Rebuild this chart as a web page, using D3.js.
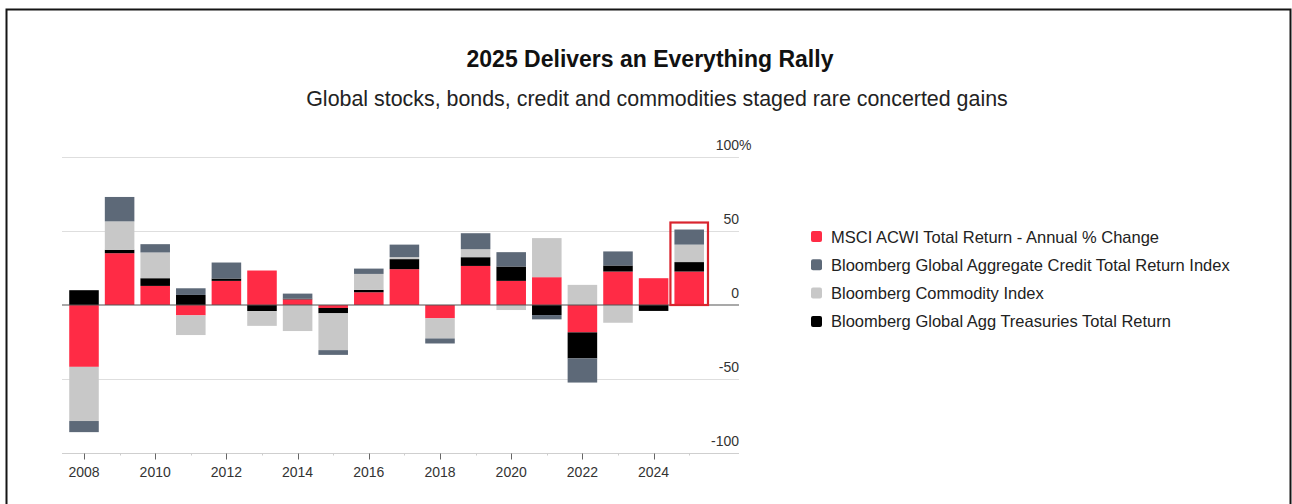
<!DOCTYPE html>
<html>
<head>
<meta charset="utf-8">
<script src="https://cdn.jsdelivr.net/npm/d3@7"></script>
<style>
    body { margin: 0; background: #fff; }
    svg text { font-family: "Liberation Sans", Arial, sans-serif; }
</style>
</head>
<body>
<div id="chart"></div>
<script>
const years = [2008, 2009, 2010, 2011, 2012, 2013, 2014, 2015, 2016, 2017, 2018, 2019, 2020, 2021, 2022, 2023, 2024, 2025];
const msci = [-41.8, 35.0, 12.9, -7.0, 16.3, 23.3, 3.8, -2.0, 8.6, 24.2, -9.0, 26.4, 16.3, 18.8, -18.5, 22.6, 18.1, 22.6];
const treasuries = [10.0, 2.3, 5.2, 6.8, 1.6, -4.1, 0.5, -3.6, 1.6, 6.8, 0, 5.9, 9.7, -6.8, -17.6, 4.1, -4.0, 6.4];
const commodity = [-36.6, 19.2, 17.4, -13.3, 0, -10.0, -17.6, -24.9, 10.8, 1.4, -13.6, 5.4, -3.4, 26.4, 13.6, -12.0, 0, 11.8];
const credit = [-7.5, 16.5, 5.6, 4.5, 10.8, 0, 3.4, -3.2, 3.6, 8.4, -3.4, 10.8, 9.7, -2.9, -16.3, 9.5, 0, 10.2];

const yTicks = [100, 50, 0, -50, -100];
const xLabelYears = [2008, 2010, 2012, 2014, 2016, 2018, 2020, 2022, 2024];
const highlightYear = 2025;

const series = [
    {key: "msci", label: "MSCI ACWI Total Return - Annual % Change", color: "#ff2b45", values: msci},
    {key: "credit", label: "Bloomberg Global Aggregate Credit Total Return Index", color: "#5d6978", values: credit},
    {key: "commodity", label: "Bloomberg Commodity Index", color: "#c8c8c8", values: commodity},
    {key: "treasuries", label: "Bloomberg Global Agg Treasuries Total Return", color: "#000000", values: treasuries}
];
// stacking order out from zero
const stackOrder = ["msci", "treasuries", "commodity", "credit"];

const width = 1292;
const height = 504;

const rows = years.map((yr, i) => {
    let r = {year: yr};
    series.forEach(s => r[s.key] = s.values[i]);
    return r;
});

const svg = d3.select("#chart")
    .append("svg")
    .attr("width", width)
    .attr("height", height);

// frame
svg.append("rect")
    .attr("x", 6.5)
    .attr("y", 9.5)
    .attr("width", 1284)
    .attr("height", 520)
    .attr("fill", "none")
    .attr("stroke", "#151515")
    .attr("stroke-width", 2);

svg.append("text")
    .attr("x", 650)
    .attr("y", 67)
    .attr("text-anchor", "middle")
    .style("font-size", "23px")
    .style("font-weight", "bold")
    .style("fill", "#111")
    .text("2025 Delivers an Everything Rally");

svg.append("text")
    .attr("x", 657)
    .attr("y", 106)
    .attr("text-anchor", "middle")
    .style("font-size", "21.4px")
    .style("fill", "#222")
    .text("Global stocks, bonds, credit and commodities staged rare concerted gains");

const x = d3.scaleBand()
    .domain(years)
    .range([66.2, 707])
    .paddingInner(0.17)
    .paddingOuter(0.085);

const y = d3.scaleLinear()
    .domain([-100, 100])
    .range([453, 157]);

const gridLeft = 62;
const gridRight = 739;

// gridlines
svg.selectAll(".grid")
    .data(yTicks.filter(t => t !== 0 && t !== -100))
    .enter()
    .append("line")
    .attr("class", "grid")
    .attr("x1", gridLeft)
    .attr("x2", gridRight)
    .attr("y1", d => Math.round(y(d)) + 0.5)
    .attr("y2", d => Math.round(y(d)) + 0.5)
    .attr("stroke", "#dedede");

// y labels
svg.selectAll(".ylab")
    .data(yTicks)
    .enter()
    .append("text")
    .attr("class", "ylab")
    .attr("x", gridRight)
    .attr("y", d => y(d) - 7)
    .attr("text-anchor", "end")
    .style("font-size", "14px")
    .style("fill", "#333")
    .each(function(d){
        const t = d3.select(this);
        t.append("tspan").text(d);
        if (d === 100) t.append("tspan").text("%");
    });
// keep "%" hanging past the right edge
svg.selectAll(".ylab").filter(d => d === 100)
    .attr("text-anchor", "start")
    .attr("x", function(){ return gridRight - this.firstChild.getComputedTextLength(); });

// stacked bars
const stack = d3.stack()
    .keys(stackOrder)
    .offset(d3.stackOffsetDiverging);

const stacked = stack(rows);
const colorOf = {};
series.forEach(s => colorOf[s.key] = s.color);

svg.append("g")
    .selectAll("g")
    .data(stacked)
    .enter()
    .append("g")
    .attr("fill", d => colorOf[d.key])
    .selectAll("rect")
    .data(d => d)
    .enter()
    .append("rect")
    .attr("x", d => x(d.data.year))
    .attr("width", x.bandwidth())
    .attr("y", d => y(Math.max(d[0], d[1])))
    .attr("height", d => Math.abs(y(d[0]) - y(d[1])));

// zero line
svg.append("line")
    .attr("x1", gridLeft)
    .attr("x2", gridRight)
    .attr("y1", y(0))
    .attr("y2", y(0))
    .attr("stroke", "#555")
    .attr("stroke-width", 1.2);

// x axis
const xAxis = svg.append("g")
    .attr("transform", `translate(0,${Math.round(y(-100)) + 0.5})`);

xAxis.append("line")
    .attr("x1", gridLeft)
    .attr("x2", gridRight)
    .attr("stroke", "#cfcfcf");

xAxis.selectAll(".tick")
    .data(years)
    .enter()
    .append("line")
    .attr("x1", d => Math.round(x(d) + x.bandwidth() / 2) + 0.5)
    .attr("x2", d => Math.round(x(d) + x.bandwidth() / 2) + 0.5)
    .attr("y1", 0)
    .attr("y2", d => xLabelYears.includes(d) ? 6 : 2)
    .attr("stroke", d => xLabelYears.includes(d) ? "#666" : "#ccc");

xAxis.selectAll(".xlab")
    .data(xLabelYears)
    .enter()
    .append("text")
    .attr("x", d => x(d) + x.bandwidth() / 2)
    .attr("y", 23)
    .attr("text-anchor", "middle")
    .style("font-size", "14px")
    .style("fill", "#333")
    .text(d => d);

// highlight box around the latest year
const lastTop = d3.max(stacked, s => s.find(p => p.data.year === highlightYear)[1]);
svg.append("rect")
    .attr("x", x(highlightYear) - 4)
    .attr("y", y(lastTop) - 7)
    .attr("width", x.bandwidth() + 8)
    .attr("height", y(0) - y(lastTop) + 7)
    .attr("fill", "none")
    .attr("stroke", "#d9252f")
    .attr("stroke-width", 2.2);

// legend
const legend = svg.append("g")
    .attr("transform", "translate(811,236.5)");

const items = legend.selectAll("g")
    .data(series)
    .enter()
    .append("g")
    .attr("transform", (d, i) => `translate(0,${i * 28.3})`);

items.append("rect")
    .attr("x", 0)
    .attr("y", -5.5)
    .attr("width", 11)
    .attr("height", 11)
    .attr("rx", 2)
    .attr("fill", d => d.color);

items.append("text")
    .attr("x", 20)
    .attr("y", 6)
    .style("font-size", "16.5px")
    .style("fill", "#222")
    .text(d => d.label);
</script>
</body>
</html>
